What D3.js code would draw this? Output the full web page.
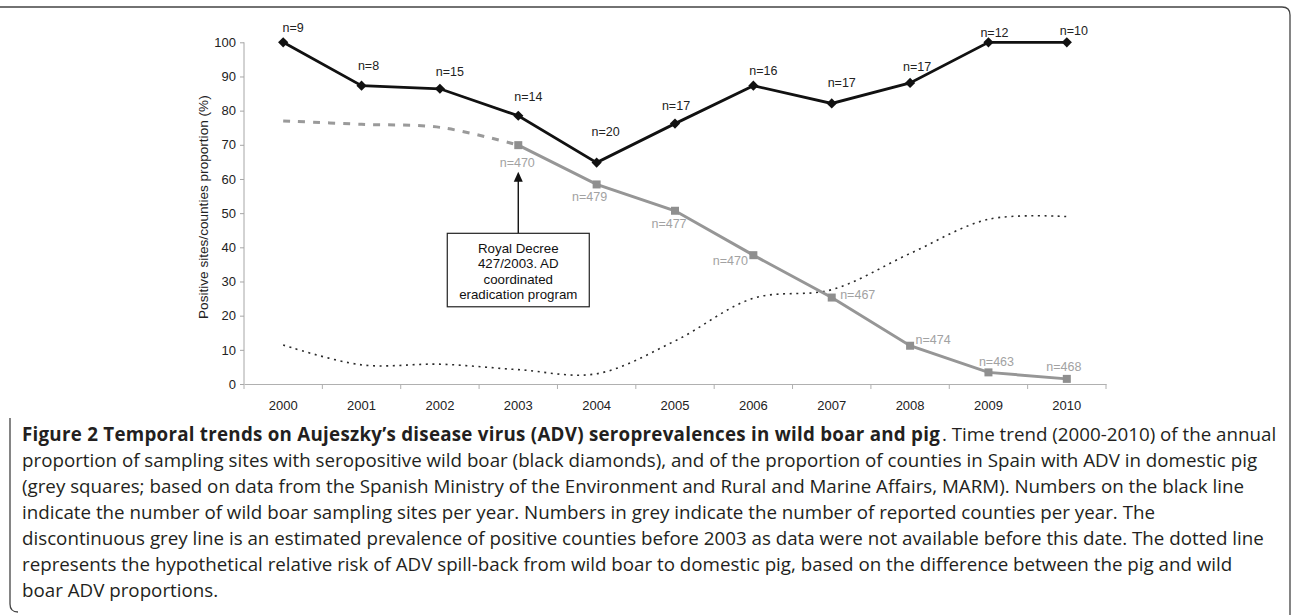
<!DOCTYPE html>
<html>
<head>
<meta charset="utf-8">
<script src="https://cdn.jsdelivr.net/npm/d3@7"></script>
<style>
  html, body { margin: 0; padding: 0; background: #fff; }
  svg { display: block; }
</style>
</head>
<body>
<svg id="chart" width="1292" height="615"></svg>
<script>
// ── Data ──────────────────────────────────────────────────────────────────────

const years      = [2000, 2001, 2002, 2003, 2004, 2005, 2006, 2007, 2008, 2009, 2010];
const boarPct    = [100, 87.3, 86.4, 78.5, 64.8, 76.2, 87.3, 82.1, 88.1, 100, 100];
const boarN      = [9, 8, 15, 14, 20, 17, 16, 17, 17, 12, 10];

const pigYears   = [2003, 2004, 2005, 2006, 2007, 2008, 2009, 2010];
const pigPct     = [69.9, 58.4, 50.7, 37.7, 25.3, 11.2, 3.4, 1.5];
const pigN       = [470, 479, 477, 470, 467, 474, 463, 468];

const pigEstYears = [2000, 2001, 2002, 2003];
const pigEstPct   = [77.0, 76.0, 75.1, 69.9];

const riskPct    = [11.4, 5.6, 5.8, 4.2, 3.0, 12.6, 25.1, 27.6, 38.2, 48.2, 49.0];

const yTicks     = [0, 10, 20, 30, 40, 50, 60, 70, 80, 90, 100];

const yTitle     = 'Positive sites/counties proportion (%)';
const noteLines  = ['Royal Decree', '427/2003. AD', 'coordinated', 'eradication program'];

const captionBold = 'Figure 2 Temporal trends on Aujeszky\u2019s disease virus (ADV) seroprevalences in wild boar and pig';
const captionLines = [
  '. Time trend (2000-2010) of the annual',
  'proportion of sampling sites with seropositive wild boar (black diamonds), and of the proportion of counties in Spain with ADV in domestic pig',
  '(grey squares; based on data from the Spanish Ministry of the Environment and Rural and Marine Affairs, MARM). Numbers on the black line',
  'indicate the number of wild boar sampling sites per year. Numbers in grey indicate the number of reported counties per year. The',
  'discontinuous grey line is an estimated prevalence of positive counties before 2003 as data were not available before this date. The dotted line',
  'represents the hypothetical relative risk of ADV spill-back from wild boar to domestic pig, based on the difference between the pig and wild',
  'boar ADV proportions.'
];

// label nudges (px, relative to the point) – labels were hand placed in the source
const boarLabelOff = [[10,-15],[7,-20],[10,-17],[10,-19],[9,-31],[1,-18],[10,-15],[10,-21],[7,-16],[6,-10],[7,-12]];
const pigLabelOff  = [[-1,17],[-7,12],[-6,13],[-23,5],[26,-3],[23,-6],[8,-11],[-3,-12]];

// ── Layout ────────────────────────────────────────────────────────────────────

const FONT = '"Liberation Sans", Arial, sans-serif';
const plot = { left: 244, right: 1106, top: 42.3, bottom: 384 };

const svg = d3.select('#chart');

const x = d3.scaleBand().domain(years).range([plot.left, plot.right]).padding(0);
const xc = yr => x(yr) + x.bandwidth() / 2;
const y = d3.scaleLinear().domain([0, 100]).range([plot.bottom, plot.top]);

// frame round the figure
svg.append('path')
  .attr('d', 'M0,7 H1282 Q1290,7 1290,15 V615')
  .attr('fill', 'none').attr('stroke', '#444').attr('stroke-width', 1.3);
svg.append('path')
  .attr('d', 'M10,418 V604 Q10,612 18,612')
  .attr('fill', 'none').attr('stroke', '#444').attr('stroke-width', 1.3);

// ── Axes ──────────────────────────────────────────────────────────────────────

const gy = svg.append('g')
  .attr('transform', `translate(${plot.left},0)`)
  .call(d3.axisLeft(y).tickValues(yTicks).tickSize(4).tickPadding(4));
gy.select('.domain').attr('stroke', '#a6a6a6').attr('d', `M0,${plot.top}V${plot.bottom}`);
gy.selectAll('.tick line').attr('stroke', '#a6a6a6');
gy.selectAll('.tick text').attr('font-family', FONT).attr('font-size', 13).attr('fill', '#222');

const gx = svg.append('g')
  .attr('transform', `translate(0,${plot.bottom})`)
  .call(d3.axisBottom(x).tickSize(0).tickPadding(17));
gx.select('.domain').attr('stroke', '#b0b0b0');
gx.selectAll('.tick text').attr('font-family', FONT).attr('font-size', 13).attr('fill', '#222');

// category boundary ticks
gx.selectAll('line.bound')
  .data(years.map(yr => x(yr)).concat([plot.right]))
  .enter().append('line')
  .attr('class', 'bound')
  .attr('x1', d => d).attr('x2', d => d)
  .attr('y1', 0).attr('y2', 5)
  .attr('stroke', '#b0b0b0');

svg.append('text')
  .attr('transform', `translate(208,${(plot.top + plot.bottom) / 2 - 6}) rotate(-90)`)
  .attr('text-anchor', 'middle')
  .attr('font-family', FONT).attr('font-size', 13.6).attr('fill', '#222')
  .text(yTitle);

// ── Series ────────────────────────────────────────────────────────────────────

const smooth = d3.line().curve(d3.curveCatmullRom.alpha(0.5));

// dotted relative risk
svg.append('path')
  .datum(years.map((yr, i) => [xc(yr), y(riskPct[i])]))
  .attr('d', smooth)
  .attr('fill', 'none')
  .attr('stroke', '#2a2a2a')
  .attr('stroke-width', 1.6)
  .attr('stroke-dasharray', '2,4.6');

// estimated pig prevalence (dashed grey)
svg.append('path')
  .datum(pigEstYears.map((yr, i) => [xc(yr), y(pigEstPct[i])]))
  .attr('d', smooth)
  .attr('fill', 'none')
  .attr('stroke', '#9a9a9a')
  .attr('stroke-width', 3)
  .attr('stroke-dasharray', '7,8');

// pig prevalence (solid grey + squares)
svg.append('path')
  .datum(pigYears.map((yr, i) => [xc(yr), y(pigPct[i])]))
  .attr('d', d3.line())
  .attr('fill', 'none')
  .attr('stroke', '#969696')
  .attr('stroke-width', 3);

svg.selectAll('rect.pig')
  .data(pigYears)
  .enter().append('rect')
  .attr('class', 'pig')
  .attr('x', (yr) => xc(yr) - 4)
  .attr('y', (yr, i) => y(pigPct[i]) - 4)
  .attr('width', 8).attr('height', 8)
  .attr('fill', '#8f8f8f');

// wild boar (black + diamonds)
svg.append('path')
  .datum(years.map((yr, i) => [xc(yr), y(boarPct[i])]))
  .attr('d', d3.line())
  .attr('fill', 'none')
  .attr('stroke', '#111')
  .attr('stroke-width', 2.8);

const diamond = d3.symbol().type(d3.symbolSquare).size(52);
svg.selectAll('path.boar')
  .data(years)
  .enter().append('path')
  .attr('class', 'boar')
  .attr('d', diamond)
  .attr('transform', (yr, i) => `translate(${xc(yr)},${y(boarPct[i])}) rotate(45)`)
  .attr('fill', '#111');

// ── Labels ────────────────────────────────────────────────────────────────────

svg.selectAll('text.boarN')
  .data(years)
  .enter().append('text')
  .attr('class', 'boarN')
  .attr('x', (yr, i) => xc(yr) + boarLabelOff[i][0])
  .attr('y', (yr, i) => y(boarPct[i]) + boarLabelOff[i][1])
  .attr('dy', '0.35em')
  .attr('text-anchor', 'middle')
  .attr('font-family', FONT).attr('font-size', 12.5).attr('fill', '#222')
  .text((yr, i) => `n=${boarN[i]}`);

svg.selectAll('text.pigN')
  .data(pigYears)
  .enter().append('text')
  .attr('class', 'pigN')
  .attr('x', (yr, i) => xc(yr) + pigLabelOff[i][0])
  .attr('y', (yr, i) => y(pigPct[i]) + pigLabelOff[i][1])
  .attr('dy', '0.35em')
  .attr('text-anchor', 'middle')
  .attr('font-family', FONT).attr('font-size', 12.5).attr('fill', '#a2a2a2')
  .text((yr, i) => `n=${pigN[i]}`);

// ── Annotation: Royal Decree ──────────────────────────────────────────────────

const noteX = xc(2003);
const boxTop = y(44.1), boxBot = y(22.6), boxW = 142;
svg.append('line')
  .attr('x1', noteX).attr('x2', noteX)
  .attr('y1', boxTop).attr('y2', y(62.1) + 8)
  .attr('stroke', '#111').attr('stroke-width', 1.4);
svg.append('path')
  .attr('d', `M${noteX},${y(62.1)} l-4.5,10 h9 z`)
  .attr('fill', '#111');
svg.append('rect')
  .attr('x', noteX - boxW / 2).attr('y', boxTop)
  .attr('width', boxW).attr('height', boxBot - boxTop)
  .attr('fill', '#fff').attr('stroke', '#222').attr('stroke-width', 1.2);
svg.selectAll('text.note')
  .data(noteLines)
  .enter().append('text')
  .attr('class', 'note')
  .attr('x', noteX)
  .attr('y', (d, i) => boxTop + 15 + i * 15.3)
  .attr('dy', '0.35em')
  .attr('text-anchor', 'middle')
  .attr('font-family', FONT).attr('font-size', 13.3).attr('fill', '#111')
  .text(d => d);

// ── Caption ───────────────────────────────────────────────────────────────────

const CAP_FONT = '"Open Sans", "Noto Sans", sans-serif';
const capLeft = 22, capTop = 441, capStep = 26;
const boldEnd = 940;   // where the bold title ends in the source
const cap = svg.append('g').attr('font-family', CAP_FONT).attr('fill', '#231f20');

const boldText = cap.append('text')
  .attr('x', capLeft).attr('y', capTop)
  .attr('font-weight', 'bold').attr('font-size', 16)
  .text(captionBold);

const capText = cap.selectAll('text.cap')
  .data(captionLines)
  .enter().append('text')
  .attr('class', 'cap')
  .attr('x', (d, i) => i === 0 ? boldEnd + 2 : capLeft)
  .attr('y', (d, i) => capTop + i * capStep)
  .attr('font-size', 16)
  .text(d => d);

// fit the caption to the width of the fifth line in the source (~1242px)
const w = capText.nodes()[4].getComputedTextLength();
const fs = 16 * 1242 / w;
capText.attr('font-size', fs);

// bold title: same size, letter spacing nudged so it ends where the source does
boldText.attr('font-size', fs);
const bw = boldText.node().getComputedTextLength();
const ls = (boldEnd - capLeft - bw) / captionBold.length;
boldText.attr('letter-spacing', ls.toFixed(3));
</script>
</body>
</html>
